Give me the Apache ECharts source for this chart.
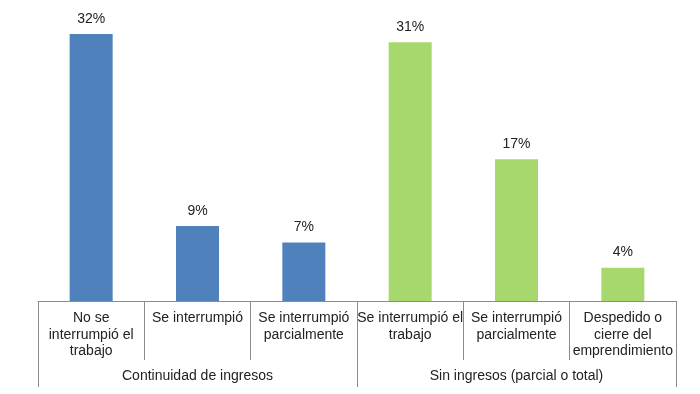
<!DOCTYPE html>
<html><head><meta charset="utf-8">
<script src="https://cdn.jsdelivr.net/npm/echarts@6/dist/echarts.min.js"></script>
<style>html,body{margin:0;padding:0;background:#fff}#c{width:700px;height:394px}</style>
</head><body><div id="c"></div>
<script>
const categories = ["No se\ninterrumpió el\ntrabajo", "Se interrumpió", "Se interrumpió\nparcialmente", "Se interrumpió el\ntrabajo", "Se interrumpió\nparcialmente", "Despedido o\ncierre del\nemprendimiento"];
const groups = ["Continuidad de ingresos", "Sin ingresos (parcial o total)"];
const values = [32, 9, 7, 31, 17, 4];
const groupOfBar = [0, 0, 0, 1, 1, 1];
const groupColors = ["#4F81BD", "#A6D86E"];

const chart = echarts.init(document.getElementById('c'), null, {renderer: 'canvas'});
const font = "'Liberation Sans', Arial, sans-serif";
chart.setOption({
  animation: false,
  grid: {left: 38, right: 24, top: 34, bottom: 93},
  xAxis: [{
    type: 'category', data: categories, position: 'bottom',
    axisLine: {lineStyle: {color: '#8c8c8c', width: 1}},
    axisTick: {show: true, interval: 0, length: 59, lineStyle: {color: '#8c8c8c'}},
    axisLabel: {interval: 0, margin: 9, fontSize: 14, lineHeight: 16.5, color: '#222', fontFamily: font, align: 'center', verticalAlign: 'top'}
  }, {
    type: 'category', data: groups, position: 'bottom',
    axisLine: {show: false},
    axisTick: {show: true, interval: 0, length: 86, lineStyle: {color: '#8c8c8c'}},
    axisLabel: {interval: 0, margin: 68, fontSize: 14, color: '#222', fontFamily: font, verticalAlign: 'top'}
  }],
  yAxis: {type: 'value', min: 0, max: 32, show: false},
  series: [{
    type: 'bar', xAxisIndex: 0, barWidth: 43,
    data: values.map((v, i) => ({value: v, itemStyle: {color: groupColors[groupOfBar[i]]}})),
    label: {show: true, position: 'top', distance: 8, formatter: p => p.value + '%', fontSize: 14, color: '#222', fontFamily: font}
  }]
});
</script></body></html>
